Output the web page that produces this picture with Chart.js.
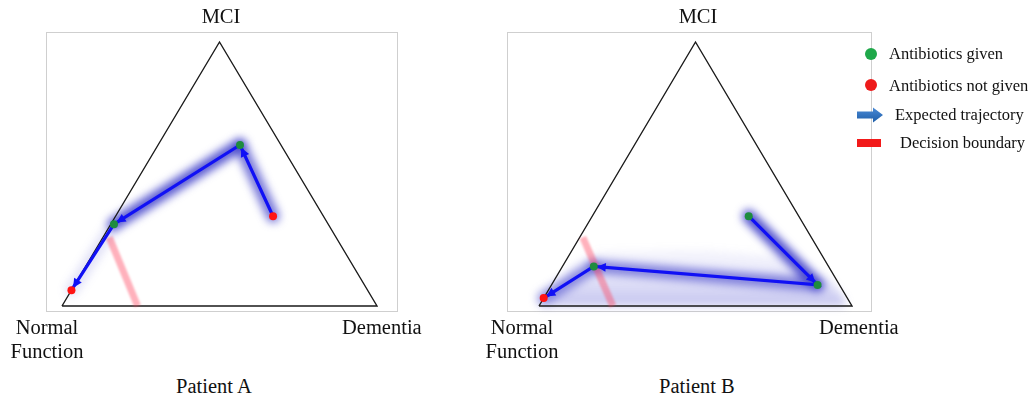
<!DOCTYPE html>
<html>
<head>
<meta charset="utf-8">
<script src="https://cdn.jsdelivr.net/npm/chart.js@4.4.1/dist/chart.umd.min.js"></script>
<style>
  html, body { margin: 0; padding: 0; background: #fff; }
  body { position: relative; width: 1033px; height: 398px; overflow: hidden;
         font-family: "Liberation Serif", "Times New Roman", serif; color: #111; }
  .box { position: absolute; border: 1px solid #cfcfcf; box-sizing: border-box; }
  canvas { position: absolute; }
  .soft { filter: blur(4.5px); }
  .lbl { position: absolute; font-size: 20.5px; line-height: 24px; white-space: nowrap; }
  .ctr { transform: translateX(-50%); text-align: center; }
  .leg { position: absolute; font-size: 16.5px; line-height: 20px; white-space: nowrap; }
  .dot { position: absolute; width: 12px; height: 12px; border-radius: 50%; }
</style>
</head>
<body>

<!-- Patient A panel -->
<div class="box" style="left:46px;top:32px;width:352px;height:280px"></div>
<canvas id="haloA" class="soft" width="352" height="280" style="left:46px;top:32px"></canvas>
<canvas id="chartA" width="352" height="280" style="left:46px;top:32px"></canvas>
<div class="lbl ctr" style="left:221px;top:4px">MCI</div>
<div class="lbl ctr" style="left:47px;top:315px">Normal<br>Function</div>
<div class="lbl" style="left:342px;top:315px">Dementia</div>
<div class="lbl" style="left:176px;top:374px">Patient A</div>

<!-- Patient B panel -->
<div class="box" style="left:507px;top:32px;width:365px;height:280px"></div>
<canvas id="haloB" class="soft" width="365" height="280" style="left:507px;top:32px"></canvas>
<canvas id="chartB" width="365" height="280" style="left:507px;top:32px"></canvas>
<div class="lbl ctr" style="left:698px;top:4px">MCI</div>
<div class="lbl ctr" style="left:522px;top:315px">Normal<br>Function</div>
<div class="lbl" style="left:819px;top:315px">Dementia</div>
<div class="lbl" style="left:659px;top:374px">Patient B</div>

<!-- Legend -->
<div class="dot" style="left:865px;top:48px;background:#1fa84a"></div>
<div class="leg" style="left:889px;top:44px">Antibiotics given</div>
<div class="dot" style="left:865px;top:79px;background:#ee1b1b"></div>
<div class="leg" style="left:889px;top:76px">Antibiotics not given</div>
<svg style="position:absolute;left:856px;top:106px" width="28" height="18" viewBox="0 0 28 18">
  <defs>
    <linearGradient id="arrowGrad" x1="0" y1="0" x2="0" y2="1">
      <stop offset="0" stop-color="#4a8ad6"/>
      <stop offset="1" stop-color="#1f5ea8"/>
    </linearGradient>
  </defs>
  <path d="M1 5.5 H17 V1.5 L27 9 L17 16.5 V12.5 H1 Z" fill="url(#arrowGrad)"/>
</svg>
<div class="leg" style="left:895px;top:105px">Expected trajectory</div>
<div style="position:absolute;left:857px;top:139px;width:24px;height:8px;background:#f21a1a"></div>
<div class="leg" style="left:900px;top:133px">Decision boundary</div>

<script>
// Triangle corners in plane coordinates: Normal Function, Dementia, MCI
const cornerX = [0, 1, 0.5, 0];
const cornerY = [0, 0, 1, 0];

// Patient A: MCI and Dementia shares at each visit (Normal Function = remainder)
const patientA_mci         = [0.34, 0.61, 0.31, 0.06];
const patientA_dementia    = [0.50, 0.26, 0.01, 0.00];
const patientA_antibiotics = [false, true, true, false];
const patientA_spread      = [0.70, 0.85, 0.15];      // uncertainty per step
const patientA_boundaryMci = [0.26, 0.00];
const patientA_boundaryDem = [0.02, 0.24];

// Patient B
const patientB_mci         = [0.34, 0.08, 0.15, 0.03];
const patientB_dementia    = [0.50, 0.85, 0.10, 0.00];
const patientB_antibiotics = [true, true, true, false];
const patientB_spread      = [0.90, 0.60, 0.55];
const patientB_boundaryMci = [0.26, 0.00];
const patientB_boundaryDem = [0.01, 0.236];
// outline of the spread of likely outcomes along the base (plane coordinates)
const patientB_cloudX = [0.006, 0.115, 0.195, 0.514, 0.802, 0.930, 0.978];
const patientB_cloudY = [0.008, 0.160, 0.205, 0.215, 0.185, 0.098, 0.023];

const GIVEN = '#1e8c3e', NOT_GIVEN = '#ff1414', TRAJ = '#1010f5';

// ternary (mci, dementia) -> plane point
function toPlane(mci, dem) {
  return mci.map((m, i) => ({ x: dem[i] + m / 2, y: m }));
}
function xy(xs, ys) { return xs.map((x, i) => ({ x, y: ys[i] })); }

// arrowheads at the end of every segment of a flagged dataset
const arrowPlugin = {
  id: 'arrowHeads',
  afterDatasetDraw(chart, args) {
    const ds = chart.data.datasets[args.index];
    if (!ds.arrowHeads) return;
    const pts = args.meta.data, ctx = chart.ctx;
    ctx.save();
    ctx.fillStyle = ds.borderColor;
    for (let i = 1; i < pts.length; i++) {
      const a = pts[i - 1], b = pts[i];
      const ang = Math.atan2(b.y - a.y, b.x - a.x);
      const c = Math.cos(ang), s = Math.sin(ang);
      const tx = b.x - c * 3, ty = b.y - s * 3;
      const len = 9, half = 4.5;
      ctx.beginPath();
      ctx.moveTo(tx, ty);
      ctx.lineTo(tx - len * c + half * s, ty - len * s - half * c);
      ctx.lineTo(tx - len * c - half * s, ty - len * s + half * c);
      ctx.closePath();
      ctx.fill();
    }
    ctx.restore();
  }
};

// optional per-dataset blur
const softenPlugin = {
  id: 'soften',
  beforeDatasetDraw(chart, args) {
    const ds = chart.data.datasets[args.index];
    if (ds.softness) { chart.ctx.save(); chart.ctx.filter = 'blur(' + ds.softness + 'px)'; }
  },
  afterDatasetDraw(chart, args) {
    const ds = chart.data.datasets[args.index];
    if (ds.softness) chart.ctx.restore();
  }
};

function baseOptions(pad) {
  return {
    responsive: false,
    animation: false,
    events: [],
    layout: { padding: pad, autoPadding: false },
    plugins: { legend: { display: false }, tooltip: { enabled: false } },
    scales: {
      x: { type: 'linear', min: 0, max: 1, display: false },
      y: { type: 'linear', min: 0, max: 1, display: false }
    }
  };
}

function drawPanel(ids, pad, mci, dem, given, spread, bMci, bDem, cloud) {
  const traj = toPlane(mci, dem);

  // soft layer: uncertainty haze around the trajectory
  const haloSets = [{
    data: traj,
    showLine: true,
    borderWidth: 13,
    pointRadius: 0,
    clip: false,
    borderCapStyle: 'round',
    borderJoinStyle: 'round',
    segment: { borderColor: c => 'rgba(60,60,200,' + spread[c.p0DataIndex] + ')' },
    order: 1
  }];
  if (cloud) {
    haloSets.push({
      data: cloud,
      showLine: true,
      borderWidth: 0,
      borderColor: 'rgba(0,0,0,0)',
      pointRadius: 0,
      clip: false,
      fill: 'origin',
      backgroundColor: ctx => {
        const area = ctx.chart.chartArea;
        if (!area) return 'rgba(110,110,220,0.2)';
        const g = ctx.chart.ctx.createLinearGradient(0, area.bottom - area.height * 0.24, 0, area.bottom);
        g.addColorStop(0, 'rgba(130,130,225,0.04)');
        g.addColorStop(0.5, 'rgba(110,110,220,0.16)');
        g.addColorStop(1, 'rgba(90,90,210,0.36)');
        return g;
      },
      order: 2
    });
  }
  new Chart(document.getElementById(ids[0]), {
    type: 'scatter',
    data: { datasets: haloSets },
    options: baseOptions(pad)
  });

  // sharp layer: triangle, decision boundary, trajectory, visits
  new Chart(document.getElementById(ids[1]), {
    type: 'scatter',
    data: {
      datasets: [
        {
          data: traj,
          showLine: true,
          pointRadius: 4,
          pointBorderWidth: 0,
          pointBackgroundColor: given.map(g => g ? GIVEN : NOT_GIVEN),
          borderWidth: 0,
          borderColor: 'rgba(0,0,0,0)',
          clip: false,
          order: 0
        },
        {
          data: traj,
          showLine: true,
          borderColor: TRAJ,
          borderWidth: 3.2,
          pointRadius: 0,
          clip: false,
          arrowHeads: true,
          order: 1
        },
        {
          data: toPlane(bMci, bDem),
          showLine: true,
          borderColor: 'rgba(255,70,95,0.42)',
          borderWidth: 7,
          pointRadius: 0,
          clip: false,
          softness: 1.2,
          order: 2
        },
        {
          data: xy(cornerX, cornerY),
          showLine: true,
          borderColor: '#1a1a1a',
          borderWidth: 1.4,
          pointRadius: 0,
          clip: false,
          order: 3
        }
      ]
    },
    options: baseOptions(pad),
    plugins: [arrowPlugin, softenPlugin]
  });
}

drawPanel(['haloA', 'chartA'], { left: 16, right: 21, top: 10, bottom: 6 },
  patientA_mci, patientA_dementia, patientA_antibiotics, patientA_spread,
  patientA_boundaryMci, patientA_boundaryDem, null);

drawPanel(['haloB', 'chartB'], { left: 32, right: 20, top: 10, bottom: 6 },
  patientB_mci, patientB_dementia, patientB_antibiotics, patientB_spread,
  patientB_boundaryMci, patientB_boundaryDem, xy(patientB_cloudX, patientB_cloudY));
</script>
</body>
</html>
